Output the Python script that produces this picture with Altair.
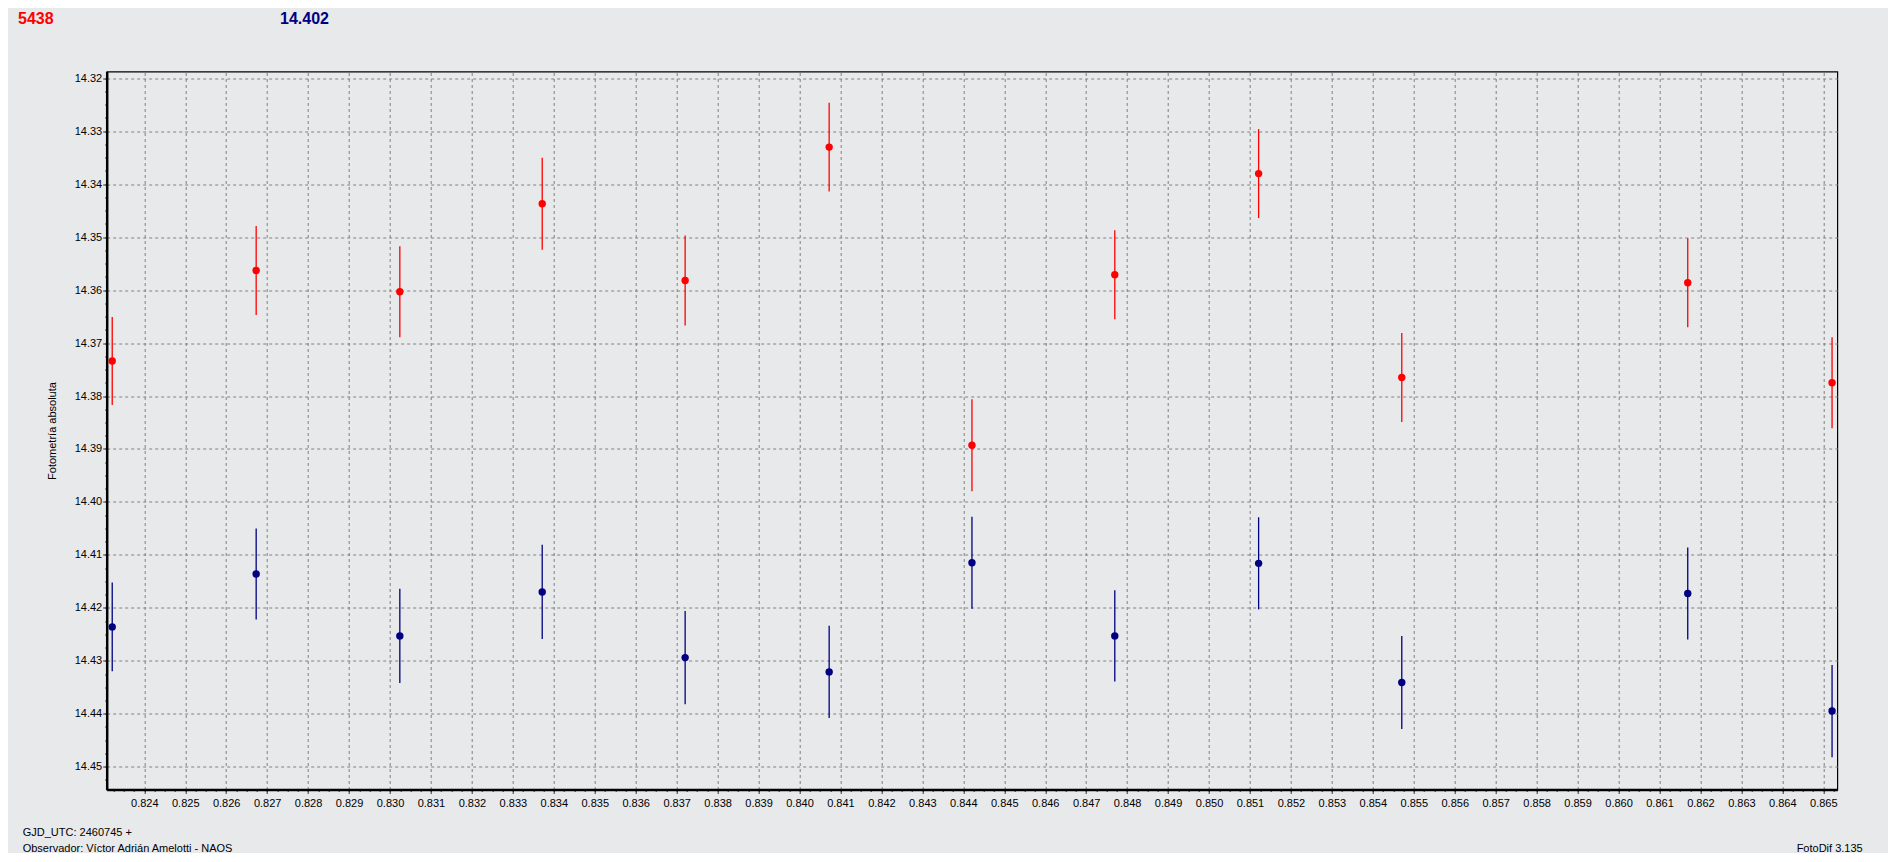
import altair as alt
import pandas as pd

# ---- data ----
gjd = [0.823217, 0.826732, 0.830240, 0.833717, 0.837207, 0.840724,
       0.844211, 0.847699, 0.851211, 0.854707, 0.861690, 0.865214]
mag_5438 = [14.3734, 14.3563, 14.3603, 14.3437, 14.3582, 14.3330,
            14.3893, 14.3571, 14.3380, 14.3765, 14.3586, 14.3775]
err_5438 = [0.0083, 0.0084, 0.0086, 0.0087, 0.0085, 0.0084,
            0.0087, 0.0084, 0.0084, 0.0084, 0.0084, 0.0086]
mag_14402 = [14.4236, 14.4136, 14.4253, 14.4170, 14.4294, 14.4321,
             14.4115, 14.4253, 14.4116, 14.4341, 14.4173, 14.4395]
err_14402 = [0.0084, 0.0086, 0.0089, 0.0089, 0.0088, 0.0087,
             0.0087, 0.0086, 0.0087, 0.0088, 0.0087, 0.0087]

series_names = ["5438", "14.402"]
series_colors = ["#FF0000", "#000080"]

y_major = [14.32, 14.33, 14.34, 14.35, 14.36, 14.37, 14.38,
           14.39, 14.40, 14.41, 14.42, 14.43, 14.44, 14.45]
x_major = [0.824, 0.825, 0.826, 0.827, 0.828, 0.829, 0.830, 0.831, 0.832,
           0.833, 0.834, 0.835, 0.836, 0.837, 0.838, 0.839, 0.840, 0.841,
           0.842, 0.843, 0.844, 0.845, 0.846, 0.847, 0.848, 0.849, 0.850,
           0.851, 0.852, 0.853, 0.854, 0.855, 0.856, 0.857, 0.858, 0.859,
           0.860, 0.861, 0.862, 0.863, 0.864, 0.865]

x_domain = [0.823082, 0.865342]
y_domain = [14.31872, 14.45431]

# ---- table ----
rows = []
for name, mags, errs in [("5438", mag_5438, err_5438), ("14.402", mag_14402, err_14402)]:
    for g, m, e in zip(gjd, mags, errs):
        rows.append({"series": name, "gjd": g, "mag": m, "lo": m - e, "hi": m + e})
df = pd.DataFrame(rows)

# minor tick positions (4 per major interval)
y_minor = sorted({round(m + k * 0.0025, 4) for m in y_major for k in range(-1, 4)})
y_minor = [v for v in y_minor if y_domain[0] <= v <= y_domain[1]]
x_minor = sorted({round(m + k * 0.00025, 5) for m in x_major for k in range(-3, 4)})
x_minor = [v for v in x_minor if x_domain[0] <= v <= x_domain[1]]

FONT = "Liberation Sans"
W, H = 1730.6, 718

xaxis = alt.Axis(
    values=x_major, format=".3f", tickSize=4,
    grid=True, gridColor="#808080", gridDash=[3, 3], gridWidth=1,
    domainColor="black", domainWidth=2.5, tickColor="#333333", tickWidth=1,
    labelFont=FONT, labelFontSize=11, labelColor="black", labelPadding=4,
    labelOverlap=False, labelFlush=False, title=None, orient="bottom",
)
yaxis = alt.Axis(
    values=y_major, format=".2f", tickSize=4,
    grid=True, gridColor="#808080", gridDash=[3, 3], gridWidth=1,
    domainColor="black", domainWidth=2.5, tickColor="#333333", tickWidth=1,
    labelFont=FONT, labelFontSize=11, labelColor="black", labelPadding=1,
    labelOverlap=False, labelFlush=False, orient="left",
    title="Fotometría absoluta", titleFont=FONT, titleFontSize=11,
    titleFontWeight="normal", titleColor="black",
    titleX=-53.7, titleY=H / 2, titleAngle=270, titleAlign="center",
    titleBaseline="middle",
)
xaxis_minor = alt.Axis(values=x_minor, labels=False, grid=False, domain=False,
                       tickSize=2, tickColor="#333333", tickWidth=1,
                       title=None, orient="bottom")
yaxis_minor = alt.Axis(values=y_minor, labels=False, grid=False, domain=False,
                       tickSize=2, tickColor="#333333", tickWidth=1,
                       title=None, orient="left")

color = alt.Color("series:N", scale=alt.Scale(domain=series_names, range=series_colors), legend=None)


def xs():
    return alt.Scale(domain=x_domain, nice=False, zero=False)


def ys():
    return alt.Scale(domain=y_domain, reverse=True, nice=False, zero=False)


base = alt.Chart(df)

minor = base.mark_point(opacity=0).encode(
    x=alt.X("gjd:Q", scale=xs(), axis=xaxis_minor),
    y=alt.Y("mag:Q", scale=ys(), axis=yaxis_minor),
)

bars = base.mark_rule(strokeWidth=1.3).encode(
    x=alt.X("gjd:Q", scale=xs(), axis=xaxis),
    y=alt.Y("lo:Q", scale=ys(), axis=yaxis),
    y2="hi:Q",
    color=color,
)
pts = base.mark_point(filled=True, shape="circle", size=55, opacity=1).encode(
    x=alt.X("gjd:Q", scale=xs(), axis=xaxis),
    y=alt.Y("mag:Q", scale=ys(), axis=yaxis),
    color=color,
)
data_layer = alt.layer(bars, pts)

one = pd.DataFrame({"k": [0]})


def label(txt, x, y, size=11, weight="normal", col="black", align="left"):
    return alt.Chart(one).mark_text(
        font=FONT, fontSize=size, fontWeight=weight, color=col,
        align=align, baseline="middle",
    ).encode(x=alt.value(x), y=alt.value(y), text=alt.value(txt))


texts = alt.layer(
    label("5438", -88.7, -52.5, 16, "bold", "#FF0000"),
    label("14.402", 173.3, -52.5, 16, "bold", "#000080"),
    label("GJD_UTC: 2460745 +", -84, 761, 11),
    label("Observador: Víctor Adrián Amelotti - NAOS", -84, 777.5, 11),
    label("FotoDif 3.135", 1756, 777.5, 11, align="right"),
)

chart = alt.layer(minor, data_layer, texts).resolve_scale(
    x="independent", y="independent"
).resolve_axis(
    x="independent", y="independent"
).properties(
    width=W, height=H,
    padding={"left": 98.7, "top": 63.5, "right": 50.7, "bottom": 63.5},
    autosize=alt.AutoSizeParams(type="none"),
    background="#E8E9EB",
).configure_view(stroke="black", strokeWidth=1.2)

chart.save("out.html", embed_options={"renderer": "svg", "actions": False})
